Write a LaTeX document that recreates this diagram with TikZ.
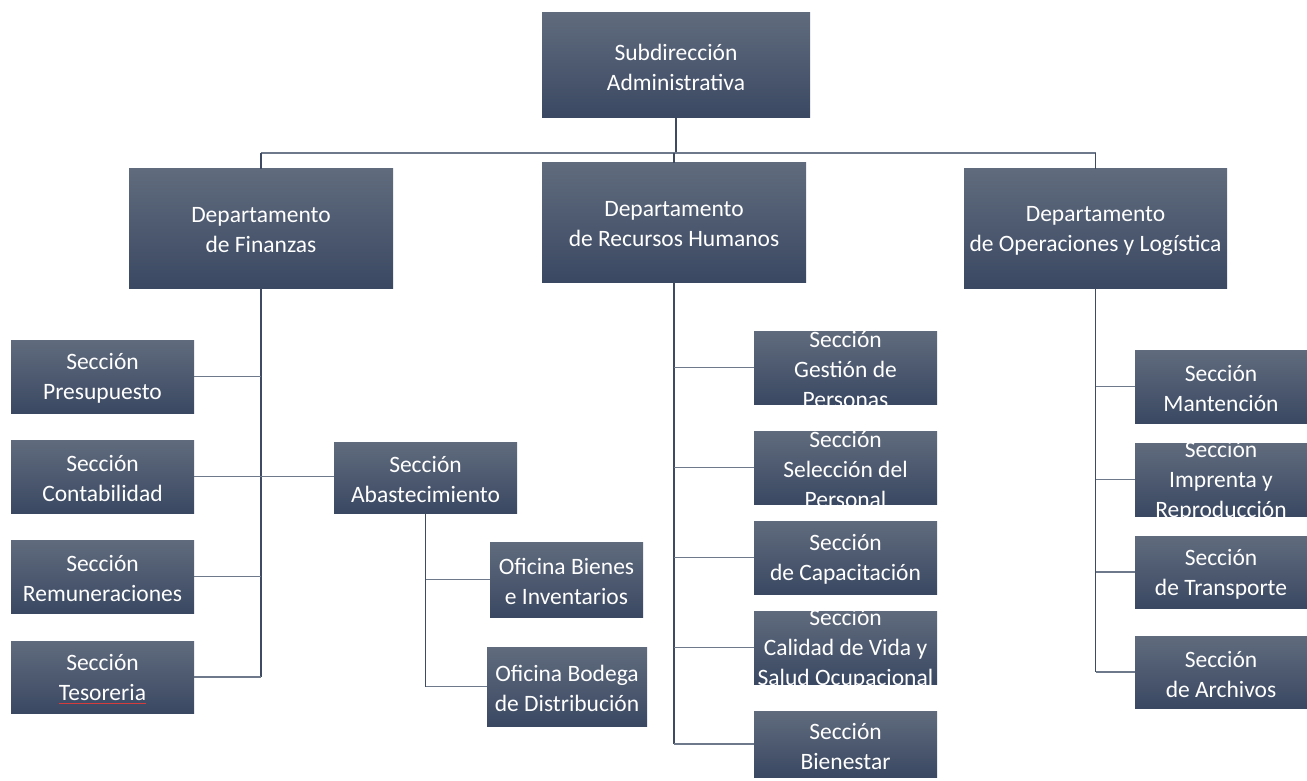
\documentclass[tikz,border=0pt]{standalone}
\usepackage{fontspec}
\setmainfont{Carlito}
\definecolor{boxtop}{RGB}{96,107,125}
\definecolor{boxbot}{RGB}{58,72,98}
\definecolor{trunk}{RGB}{62,75,98}
\definecolor{branch}{RGB}{110,122,140}
\definecolor{spell}{RGB}{215,60,60}
\tikzset{
  orgbox/.style={draw=none, inner sep=0pt, outer sep=0pt, rectangle,
    top color=boxtop, bottom color=boxbot},
  orgtext/.style={text=white, align=center, inner sep=0pt,
    font=\fontsize{23.5}{30}\selectfont},
  trunkline/.style={draw=trunk, line width=1.4pt},
  branchline/.style={draw=branch, line width=1.4pt},
}
% \orgbox{name}{left}{top}{right}{bottom}{text}; text is clipped to the box
\newcommand\orgbox[6]{%
  \node[orgbox, minimum width={#4-#2}, minimum height={#5-#3},
    path picture={\node[orgtext] at ([yshift=-2pt]path picture bounding box.center) {#6};}]
    (#1) at ({(#2+#4)/2},{(#3+#5)/2}) {};}
% red wavy-style spelling mark under a word
\newlength\spellwd
\newcommand\spellmark[1]{\settowidth\spellwd{#1}%
  \makebox[0pt][l]{\textcolor{spell}{\rule[-3.5pt]{\spellwd}{1.2pt}}}#1}
\begin{document}
\begin{tikzpicture}[x=1pt, y=-1pt]
\useasboundingbox (0,0) rectangle (1307,781);

% top level
\orgbox{sub}{542}{13}{810}{118}{Subdirección\\Administrativa}

% departments
\orgbox{fin}{129}{169}{393}{288}{Departamento\\ de Finanzas}
\orgbox{rrhh}{542}{163}{806}{282}{Departamento\\de Recursos Humanos}
\orgbox{ops}{964}{169}{1227}{288}{Departamento\\de Operaciones y Logística}

% finance sections
\orgbox{pres}{11}{340}{194}{413}{Sección\\Presupuesto}
\orgbox{cont}{11}{440}{194}{513}{Sección\\Contabilidad}
\orgbox{remu}{11}{540}{194}{613}{Sección\\Remuneraciones}
\orgbox{teso}{11}{641}{194}{713}{Sección\\\spellmark{Tesoreria}}
\orgbox{abas}{334}{442}{517}{513}{Sección\\Abastecimiento}
\orgbox{bien}{490}{542}{643}{617}{Oficina Bienes\\e Inventarios}
\orgbox{bode}{487}{647}{647}{726}{Oficina Bodega\\de Distribución}

% human resources sections
\orgbox{gest}{754}{331}{937}{404}{Sección\\Gestión de\\Personas}
\orgbox{sele}{754}{431}{937}{504}{Sección\\Selección del\\Personal}
\orgbox{capa}{754}{521}{937}{594}{Sección\\de Capacitación}
\orgbox{cali}{754}{611}{937}{684}{Sección\\Calidad de Vida y\\Salud Ocupacional}
\orgbox{bnst}{754}{711}{937}{777}{Sección\\Bienestar}

% operations sections
\orgbox{mant}{1135}{350}{1307}{423}{Sección\\Mantención}
\orgbox{impr}{1135}{443}{1307}{516}{Sección\\Imprenta y\\Reproducción}
\orgbox{tran}{1135}{536}{1307}{608}{Sección\\de Transporte}
\orgbox{arch}{1135}{636}{1307}{708}{Sección\\de Archivos}

% bus joining the departments
\coordinate (bus) at (0,153);
\draw[trunkline] (sub.south) -- (sub.south |- bus);
\draw[branchline] (fin.north |- bus) -- (ops.north |- bus);
\foreach \d in {fin,rrhh,ops}
  \draw[trunkline] (\d.north |- bus) -- (\d.north);

% finance tree
\draw[trunkline] (fin.south) -- (fin.south |- teso.east);
\foreach \c in {pres,cont,remu,teso}
  \draw[branchline] (\c.east) -- (\c.east -| fin.south);
\draw[branchline] (cont.east -| fin.south) -- (abas.west |- cont.east);
\draw[trunkline] (abas.south) -- (abas.south |- bode.west);
\foreach \c in {bien,bode}
  \draw[branchline] (\c.west) -- (\c.west -| abas.south);

% human resources tree
\draw[trunkline] (rrhh.south) -- (rrhh.south |- bnst.west);
\foreach \c in {gest,sele,capa,cali,bnst}
  \draw[branchline] (\c.west) -- (\c.west -| rrhh.south);

% operations tree
\draw[trunkline] (ops.south) -- (ops.south |- arch.west);
\foreach \c in {mant,impr,tran,arch}
  \draw[branchline] (\c.west) -- (\c.west -| ops.south);
\end{tikzpicture}
\end{document}
